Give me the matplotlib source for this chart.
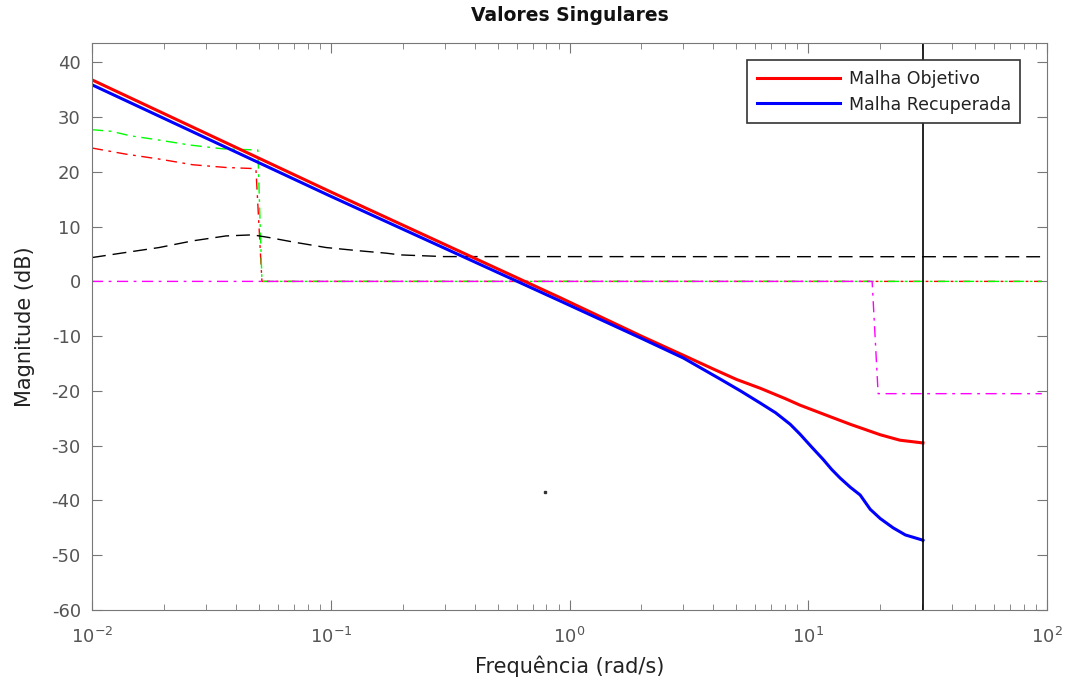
import numpy as np
import matplotlib.pyplot as plt

plt.rcParams['axes.unicode_minus'] = False

# Malha Objetivo (red, thick)
w_obj = [0.01, 0.0993, 0.912, 2.0, 3.0, 4.0, 5.0, 6.28, 8.0, 9.23, 12.0, 15.0, 20.0, 24.2, 30.2]
db_obj = [36.8, 16.4, -2.96, -10.0, -13.5, -16.0, -17.9, -19.5, -21.4, -22.6, -24.5, -26.1,
          -28.0, -29.0, -29.5]

# Malha Recuperada (blue, thick)
w_rec = [0.01, 0.0993, 0.912, 2.0, 3.0, 4.3, 5.2, 6.28, 7.3, 8.4, 9.23, 10.3, 11.53, 12.5,
         13.58, 15.0, 16.48, 18.15, 20.0, 22.65, 25.5, 29.9, 30.2]
db_rec = [35.9, 15.6, -3.56, -10.4, -14.0, -17.9, -20.0, -22.2, -24.0, -26.1, -27.9, -30.2,
          -32.5, -34.3, -35.9, -37.6, -39.0, -41.6, -43.3, -45.0, -46.3, -47.2, -47.3]

# red dash-dot
w_r = [0.01, 0.0138, 0.0191, 0.0264, 0.0364, 0.0476, 0.0486, 0.0515, 95]
db_r = [24.35, 23.25, 22.34, 21.3, 20.8, 20.6, 20.5, 0.0, 0.0]

# green dash-dot
w_g = [0.01, 0.0121, 0.0144, 0.0185, 0.0257, 0.0354, 0.0486, 0.0495, 0.0515, 95]
db_g = [27.7, 27.4, 26.6, 25.9, 24.9, 24.2, 24.0, 24.0, 0.0, 0.0]

# black dashed
w_k = [0.01, 0.0138, 0.0191, 0.0264, 0.0364, 0.0471, 0.0553, 0.0694, 0.0957, 0.132,
       0.171, 0.195, 0.298, 95]
db_k = [4.35, 5.27, 6.18, 7.4, 8.3, 8.5, 8.0, 7.2, 6.18, 5.58, 5.15, 4.84, 4.53, 4.5]

# magenta dash-dot
w_m = [0.01, 18.5, 19.6, 95]
db_m = [0.0, 0.0, -20.5, -20.5]

w_cut = 30.2
dot_w, dot_db = 0.79, -38.5

fig = plt.figure(figsize=(10.72, 6.85), dpi=100)
ax = fig.add_axes([0.0858, 0.1095, 0.891, 0.8275])

dd = (0, (8, 4, 2, 4))
ax.semilogx(w_r, db_r, color='#ff0000', ls=dd, lw=1)
ax.semilogx(w_g, db_g, color='#00ff00', ls=dd, lw=1)
ax.semilogx(w_m, db_m, color='#ff00ff', ls=dd, lw=1)
ax.semilogx(w_k, db_k, color='black', ls=(0, (10, 5)), lw=1)
ax.semilogx(w_obj, db_obj, color='#ff0000', lw=2.2, label='Malha Objetivo')
ax.semilogx(w_rec, db_rec, color='#0000ff', lw=2.2, label='Malha Recuperada')
ax.axvline(w_cut, color='black', lw=1.2)
ax.plot([dot_w], [dot_db], 's', color='#333333', ms=2)

ax.set_xlim(0.01, 100)
ax.set_ylim(-60, 43.5)
ax.set_yticks(np.arange(-60, 41, 10))

gray = '#555555'
for s in ax.spines.values():
    s.set_color('#777777')
ax.tick_params(which='both', direction='in', top=True, right=True, colors='#777777',
               labelcolor=gray, labelsize=13)
ax.tick_params(which='major', length=7)
ax.tick_params(which='minor', length=4)
ax.tick_params(axis='x', which='major', pad=12)
ax.tick_params(axis='y', which='major', pad=8)

ax.set_title('Valores Singulares', fontsize=13.5, fontweight='bold', color='#111111', pad=16)
ax.set_xlabel('Frequência (rad/s)', fontsize=15, color='#222222', labelpad=6)
ax.set_ylabel('Magnitude (dB)', fontsize=15, color='#222222', labelpad=12)

leg = ax.legend(loc='upper right', bbox_to_anchor=(0.972, 0.97), fontsize=12.5,
                fancybox=False, framealpha=1, borderaxespad=0, handlelength=4.8,
                labelspacing=0.45, borderpad=0.55, handletextpad=0.5)
leg.get_frame().set_edgecolor('#333333')
leg.get_frame().set_linewidth(1.2)
for t in leg.get_texts():
    t.set_color('#222222')

fig.savefig('out.png', dpi=100)
